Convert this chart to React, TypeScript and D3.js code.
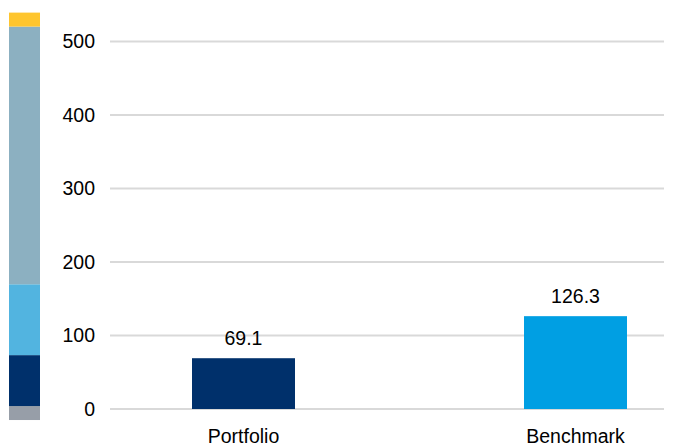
import React from 'react';
import * as d3 from 'd3';

const categories = ['Portfolio', 'Benchmark'];
const values = [69.1, 126.3];
const barColors = ['#00306b', '#009fe3'];
const yTicks = [0, 100, 200, 300, 400, 500];

// left colour strip, in axis units, bottom to top
const stripStart = -15;
const stripSizes = [19, 69.3, 96.4, 350.6, 19];
const stripColors = ['#979ea8', '#00306b', '#52b4e0', '#8cb0c1', '#fec52e'];

const width = 674;
const height = 446;

const App: React.FC = () => {
  const y = d3.scaleLinear().domain([0, 500]).range([409, 41.5]);
  const x = d3.scalePoint<string>().domain(categories).range([243.5, 575.5]);
  const barW = 103;
  const font = '"Liberation Sans", Arial, sans-serif';

  let acc = stripStart;
  const strip = stripSizes.map((s, i) => {
    const seg = { y0: acc, y1: acc + s, color: stripColors[i] };
    acc += s;
    return seg;
  });

  return (
    <svg width={width} height={height} style={{ position: 'absolute', left: 0, top: 0 }} fontFamily={font}>
      <rect width={width} height={height} fill="#fff" />
      {strip.map((s, i) => (
        <rect key={i} x={9} width={31} y={y(s.y1)} height={y(s.y0) - y(s.y1)} fill={s.color} />
      ))}
      {yTicks.map(t => (
        <g key={t}>
          <line x1={110} x2={664} y1={y(t)} y2={y(t)} stroke="#d9d9d9" strokeWidth={2} />
          <text x={95} y={y(t)} dy="0.35em" textAnchor="end" fontSize={19.5} fill="#000">{t}</text>
        </g>
      ))}
      {categories.map((c, i) => (
        <g key={c}>
          <rect x={x(c)! - barW / 2} width={barW} y={y(values[i])} height={y(0) - y(values[i])} fill={barColors[i]} />
          <text x={x(c)} y={y(values[i]) - 13} textAnchor="middle" fontSize={19.5} fill="#000">{values[i].toFixed(1)}</text>
          <text x={x(c)} y={443} textAnchor="middle" fontSize={19.5} fill="#000">{c}</text>
        </g>
      ))}
    </svg>
  );
};

export default App;
